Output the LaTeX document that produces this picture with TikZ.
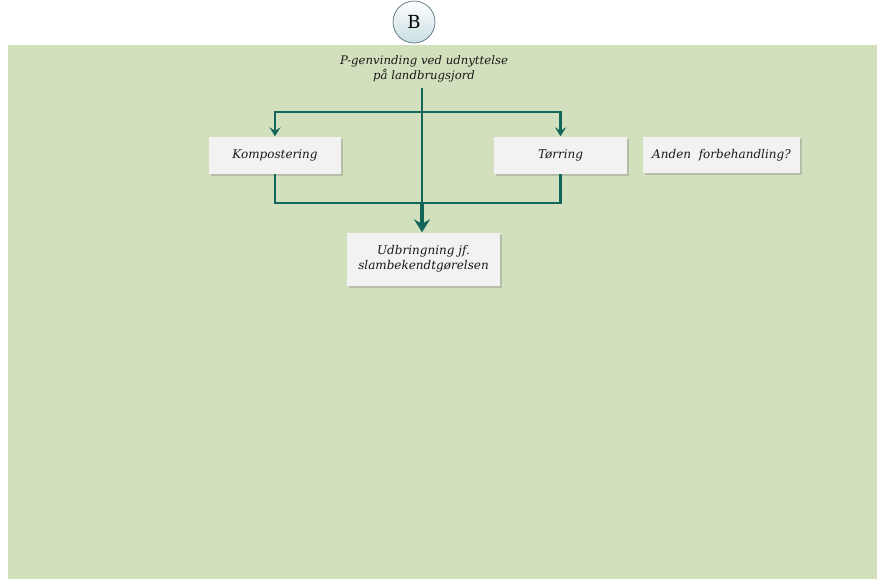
\documentclass[tikz,border=0pt]{standalone}
\usepackage{fontspec}
\setmainfont{DejaVu Serif}
\usetikzlibrary{arrows.meta,shadows}
\definecolor{fieldgreen}{RGB}{211,224,189}
\definecolor{flowteal}{RGB}{20,102,90}
\definecolor{boxgray}{RGB}{242,242,242}
\definecolor{circfill}{RGB}{200,222,226}
\definecolor{circline}{RGB}{80,112,118}
\definecolor{inktext}{RGB}{25,25,25}
\tikzset{
  stepbox/.style={fill=boxgray, draw=none, minimum height=37pt, align=center,
    text=inktext, font=\fontsize{12}{15}\selectfont\itshape,
    drop shadow={shadow xshift=1.5pt, shadow yshift=-2pt, opacity=0.35}},
  flow/.style={draw=flowteal, line width=2.9pt},
  flowarrow/.style={flow, -{Stealth[length=9pt,width=11pt,inset=3.5pt]}},
  mainarrow/.style={flow, line width=4pt, -{Stealth[length=13pt,width=16pt,inset=4.5pt]}},
}
\begin{document}
\begin{tikzpicture}[x=1pt,y=-1pt]
  \useasboundingbox (0,0) rectangle (877,579);
  % background field
  \fill[fieldgreen] (8,45) rectangle (877,579);

  % header circle and title
  \node[circle, minimum size=42pt, inner sep=0pt, draw=circline, line width=0.7pt,
        top color=white, bottom color=circfill,
        font=\fontsize{18}{20}\selectfont] (B) at (414,22) {B};
  \node[align=center, text=inktext, font=\fontsize{11.7}{15}\selectfont\itshape] (title) at (424,69)
    {P-genvinding ved udnyttelse\\på landbrugsjord};

  % process boxes
  \node[stepbox, minimum width=132pt] (komp) at (275,155) {Kompostering};
  \node[stepbox, minimum width=133pt] (torr) at (560.5,155) {Tørring};
  \node[stepbox, minimum width=157pt, minimum height=36pt] (anden) at (721.5,155) {Anden\ \ forbehandling?};
  \node[stepbox, minimum width=153pt, minimum height=53pt] (udb) at (423.5,259)
    {Udbringning jf.\\slambekendtgørelsen};

  % junction points
  \coordinate (top) at (422,88);
  \coordinate (split) at (422,112);
  \coordinate (merge) at (422,203);

  % trunk and branches
  \draw[flow] (top) -- (merge);
  \draw[flowarrow] (split) -| (komp.north);
  \draw[flowarrow] (split) -| (torr.north);
  \draw[flow] (komp.south) |- (merge) -| (torr.south);
  \draw[mainarrow] (merge) -- (merge |- udb.north);
\end{tikzpicture}
\end{document}
